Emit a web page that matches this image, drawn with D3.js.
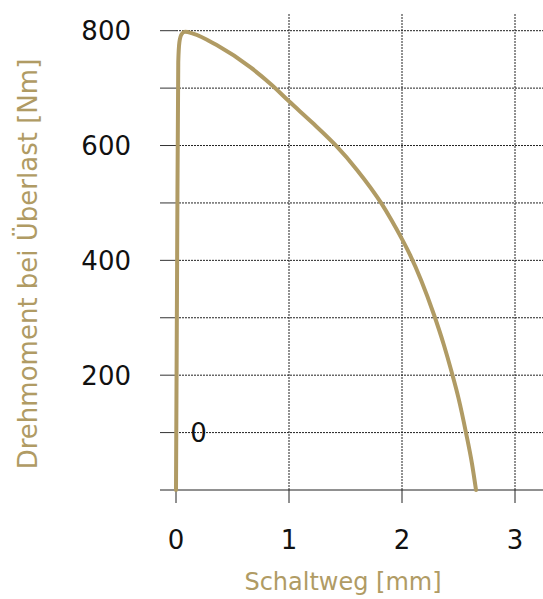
<!DOCTYPE html>
<html><head><meta charset="utf-8">
<script src="https://cdn.jsdelivr.net/npm/d3@7"></script>
<style>
html,body{margin:0;padding:0;background:#fff;}
svg{display:block;}
text{font-family:"DejaVu Sans",sans-serif;}
</style></head>
<body>
<script>
// Data
const curveX = [0, 0.01, 0.02, 0.03, 0.05, 0.08, 0.15, 0.36, 0.66, 0.85, 1.0, 1.2, 1.41, 1.6, 1.815, 1.91, 2.0, 2.07, 2.17, 2.28, 2.37, 2.44, 2.50, 2.566, 2.62, 2.655];
const curveY = [0, 400, 745, 780, 794, 798, 795, 775, 736, 705, 677, 641, 601, 558, 500, 469, 437, 410, 365, 307, 253, 205, 160, 100, 45, 0];
const xTicks = [0, 1, 2, 3];
const yGridTicks = [100, 200, 300, 400, 500, 600, 700, 800];
const yLabelTicks = [200, 400, 600, 800];
const xTitle = "Schaltweg [mm]";
const yTitle = "Drehmoment bei Überlast [Nm]";
const strayLabel = {x: 0.2, y: 100, text: "0"};

const W = 543, H = 599;
const gold = "#b09b64";
const svg = d3.select("body").append("svg").attr("width", W).attr("height", H);

const x = d3.scaleLinear().domain([0, 3]).range([176, 515]);
const y = d3.scaleLinear().domain([0, 800]).range([490, 30.7]);
const left = 160, right = W;

// horizontal grid (dotted) + solid tick stubs
const g = svg.append("g");
g.selectAll(".hg").data(yGridTicks).join("line")
  .attr("x1", x(0)).attr("x2", right)
  .attr("y1", d => y(d)).attr("y2", d => y(d))
  .attr("stroke", "#222").attr("stroke-width", 1).attr("stroke-dasharray", "2,1");
g.selectAll(".ht").data(yGridTicks).join("line")
  .attr("x1", left).attr("x2", x(0))
  .attr("y1", d => y(d)).attr("y2", d => y(d))
  .attr("stroke", "#333").attr("stroke-width", 1);
// vertical grid
g.selectAll(".vg").data(xTicks.filter(d => d > 0)).join("line")
  .attr("x1", d => x(d)).attr("x2", d => x(d))
  .attr("y1", 14).attr("y2", y(0))
  .attr("stroke", "#222").attr("stroke-width", 1).attr("stroke-dasharray", "2,1");
// x axis line and ticks
g.append("line").attr("x1", left).attr("x2", right).attr("y1", y(0)).attr("y2", y(0))
  .attr("stroke", "#222").attr("stroke-width", 1);
g.selectAll(".xt").data(xTicks).join("line")
  .attr("x1", d => x(d)).attr("x2", d => x(d))
  .attr("y1", y(0)).attr("y2", y(0) + 13)
  .attr("stroke", "#222").attr("stroke-width", 1);

// tick labels
svg.selectAll(".xl").data(xTicks).join("text")
  .attr("x", d => x(d)).attr("y", 549)
  .attr("text-anchor", "middle").attr("font-size", 26).attr("fill", "#111")
  .text(d => d);
svg.selectAll(".yl").data(yLabelTicks).join("text")
  .attr("x", 131).attr("y", d => y(d) + 9.5)
  .attr("text-anchor", "end").attr("font-size", 26).attr("fill", "#111")
  .text(d => d);
svg.append("text")
  .attr("x", x(strayLabel.x)).attr("y", y(strayLabel.y) + 9.5)
  .attr("text-anchor", "middle").attr("font-size", 26).attr("fill", "#111")
  .text(strayLabel.text);

// axis titles
svg.append("text").attr("x", 343).attr("y", 590)
  .attr("text-anchor", "middle").attr("font-size", 24).attr("fill", gold)
  .text(xTitle);
svg.append("text").attr("transform", "translate(37,264) rotate(-90)")
  .attr("text-anchor", "middle").attr("font-size", 26).attr("fill", gold)
  .text(yTitle);

// curve
const pts = curveX.map((d, i) => [d, curveY[i]]);
const line = d3.line().x(d => x(d[0])).y(d => y(d[1])).curve(d3.curveMonotoneX);
svg.append("path").attr("d", line(pts))
  .attr("fill", "none").attr("stroke", gold).attr("stroke-width", 4)
  .attr("stroke-linecap", "round").attr("stroke-linejoin", "round");
</script>
</body></html>
